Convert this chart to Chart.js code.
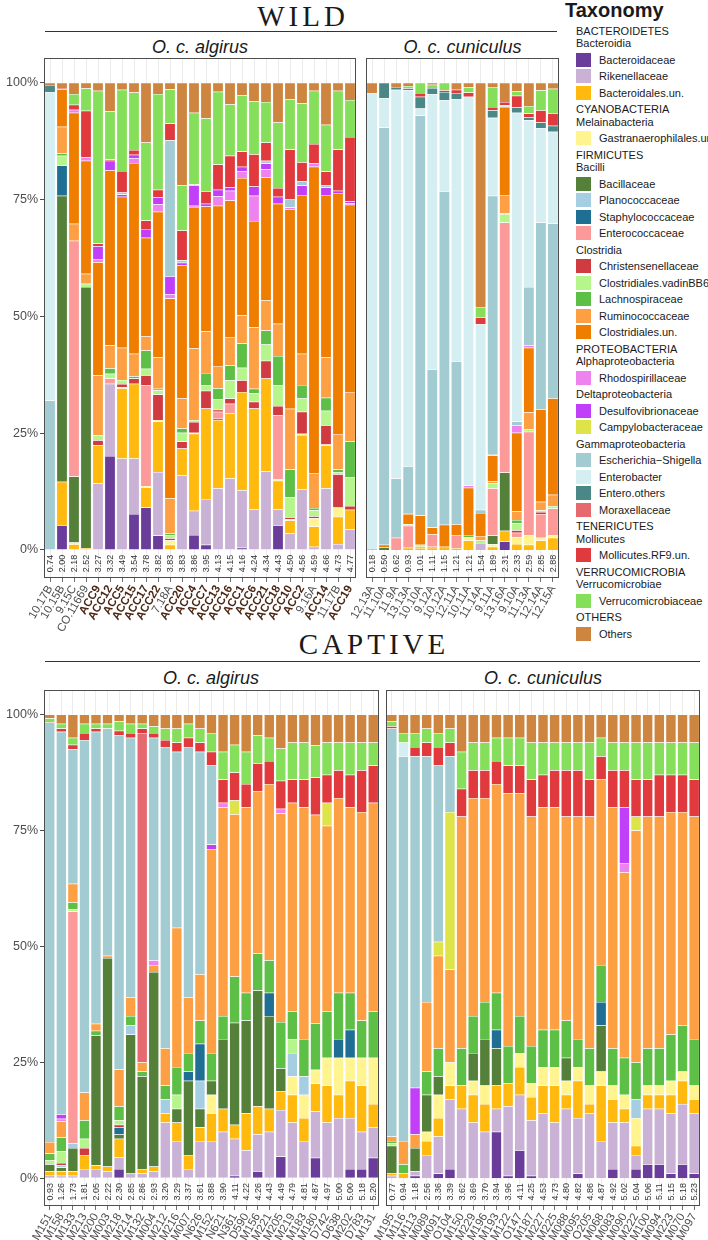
<!DOCTYPE html>
<html><head><meta charset="utf-8">
<script src="https://cdn.jsdelivr.net/npm/chart.js@4.4.1/dist/chart.umd.min.js"></script>
<style>
body{margin:0;background:#fff;width:708px;height:1240px;position:relative;overflow:hidden;font-family:"Liberation Sans",Arial,sans-serif;}
canvas{position:absolute;}
.title{position:absolute;font-family:"Liberation Serif","DejaVu Serif",serif;font-size:29px;letter-spacing:4px;color:#1a1a1a;text-align:center;width:300px;line-height:28px;}
.rule{position:absolute;height:0;border-top:1px solid #333;}
.strip{position:absolute;font-style:italic;font-size:18px;color:#1a1a1a;text-align:center;line-height:22px;}
#legend{position:absolute;left:576px;top:0;width:132px;color:#1a1a1a;font-size:11px;}
#legend .lt{font-weight:bold;font-size:20px;line-height:20px;margin-left:-11px;margin-bottom:4.7px;}
#legend .hd{line-height:12.5px;white-space:nowrap;}
#legend .hd.first{margin-top:2px;}
#legend .items{margin-top:2px;}
#legend .it{height:16.5px;display:flex;align-items:center;white-space:nowrap;}
#legend .sw{width:15px;height:14px;margin-right:8px;flex:none;}
</style></head><body>
<div class="title" style="left:153px;top:2px;">WILD</div>
<div class="rule" style="left:45px;width:512px;top:31px;"></div>
<div class="strip" style="left:44px;width:312px;top:36px;">O. c. algirus</div>
<div class="strip" style="left:366px;width:193px;top:36px;">O. c. cuniculus</div>
<div class="title" style="left:224px;top:630px;">CAPTIVE</div>
<div class="rule" style="left:45px;width:655px;top:661px;"></div>
<div class="strip" style="left:43px;width:336px;top:667px;">O. c. algirus</div>
<div class="strip" style="left:386px;width:314px;top:667px;">O. c. cuniculus</div>
<canvas id="wA" width="356" height="584" style="left:0;top:58px;"></canvas>
<canvas id="wB" width="223" height="584" style="left:336px;top:58px;"></canvas>
<canvas id="cA" width="379" height="550" style="left:0;top:690px;"></canvas>
<canvas id="cB" width="344" height="550" style="left:356px;top:690px;"></canvas>
<div id="legend"></div>
<script>
// ---- taxa (stack order, bottom to top) ----
const taxa = ["Bacteroidaceae","Rikenellaceae","Bacteroidales.un.","Gastranaerophilales.un.","Bacillaceae","Planococcaceae","Staphylococcaceae","Enterococcaceae","Christensenellaceae","Clostridiales.vadinBB60","Lachnospiraceae","Ruminococcaceae","Clostridiales.un.","Rhodospirillaceae","Desulfovibrionaceae","Campylobacteraceae","Escherichia\u2212Shigella","Enterobacter","Entero.others","Moraxellaceae","Mollicutes.RF9.un.","Verrucomicrobiaceae","Others"];
const taxaColors = ["#6a3d9a","#cab2d6","#ffb90f","#fff48f","#55803a","#a6cee3","#1f6f95","#fb9a99","#cf3b40","#b5f58c","#5dbf45","#fda043","#ee7d00","#ee82ee","#c13ff8","#dfe34a","#a2ccd2","#d4eef2","#4a8888","#e6696f","#e0393e","#86df5a","#cd853f"];
const legendGroups = [
  ["BACTEROIDETES","Bacteroidia",[0,1,2]],
  ["CYANOBACTERIA","Melainabacteria",[3]],
  ["FIRMICUTES","Bacilli",[4,5,6,7]],
  [null,"Clostridia",[8,9,10,11,12]],
  ["PROTEOBACTERIA","Alphaproteobacteria",[13]],
  [null,"Deltaproteobacteria",[14,15]],
  [null,"Gammaproteobacteria",[16,17,18,19]],
  ["TENERICUTES","Mollicutes",[20]],
  ["VERRUCOMICROBIA","Verrucomicrobiae",[21]],
  ["OTHERS",null,[22]]
];
const yTicks = [0,25,50,75,100];

// ---- WILD O. c. algirus ----
const wildAlgirusSamples = ["10.17B","10.15B","9.15C","CO.11669","ACC9","ACC12","ACC5","ACC15","ACC17","ACC22","7.18A","ACC20","ACC4","ACC7","ACC13","ACC16","ACC1","ACC6","ACC21","ACC18","ACC10","ACC2","9.16A","ACC14","11.17B","ACC19"];
const wildAlgirusIndex = [0.74,2.00,2.18,2.52,3.27,3.32,3.49,3.54,3.78,3.82,3.83,3.83,3.86,3.95,4.13,4.15,4.16,4.24,4.34,4.43,4.50,4.56,4.59,4.66,4.73,4.77];
const wildAlgirusValues = [
[0,0,0,0,0,0,0,0,0,0,0,0,0,0,0,0,32,66,1.5,0,0,0,0.5],
[5.3,0,9.3,0,61.2,0,6.5,0,0,2.1,0.5,5.7,8,0,0,0,0,0,0,0,0.3,0,1.1],
[0,0,1.2,0.4,14.1,0,0,50.5,0,0,0,3.6,23.8,0.6,0,0,0,0,0,0,1.1,2.3,2.4],
[0,0,0.4,0,55.9,0,0,0,0,0.7,0,2.1,24.2,0.7,0,0,0,0,0,0,10,4.8,1.2],
[0,14.2,8.2,0,0,0,0,0,1.1,1,0,12.9,24.2,0.7,2.7,0,0,0,0,0,0.6,32.7,1.7],
[20.1,15.5,0,0,0,0,0,1.1,0,1,1.2,4.9,37.5,0,2,0,0,0,0,0,0.3,10.3,6.1],
[0,19.6,15,0.3,0,0,0,0,0.6,0.9,0,6.9,32.3,0,0.5,0,0.4,0,0,0,4.6,17.4,1.5],
[7.7,11.9,16,0,0,0,0,0,1.1,0,0.5,4.8,40.8,1,0.8,0,0,0,0,0,1,12.3,2.1],
[9.1,0,4.3,0.3,0,0,0,21.6,2.1,1.4,3.9,3,21.1,0,1.9,0,0,0,0,0,1.8,16.7,12.8],
[3.1,13.6,10.8,0.3,0,0,0,0,5.5,0.9,0.3,6.7,31.2,1.6,1.5,0,0,0,0,0,1.6,20.5,2.4],
[0,0,1.1,1,0,0,0,0,0.4,0.6,0.5,7.4,42.8,0.9,3.9,0,29.1,0,0,0,3.6,7.3,1.4],
[0,16,5.7,0,0,0,0,0,1.5,1.9,0.9,6.4,28.5,0,0.6,0,0.5,0,0,0,6.4,9.6,22],
[3.2,5.2,16.5,0.2,0,0,0,0,2.3,0.4,0,15.3,30.3,0.3,4.3,0,0,0,0,0,0.2,15.4,6.4],
[1.1,9.8,19.4,0,0,0,0,0,3.8,1.2,2.6,8.9,26.7,0,0.6,0,0,0,0,0,2.7,15.6,7.6],
[0,13.2,14.6,0,0,0,0.3,1.5,0.4,2.2,2.4,4.8,34.3,2,1.4,0,0,0,0,0,5.4,15.6,1.9],
[0,15.3,13.9,0,0,0,0,2.1,1.1,3.9,3.2,6.1,29.2,2.1,0.7,0,0,0,0,0,6.8,11,4.6],
[0.5,12.3,21,0,0,0,0,0,2.5,2.7,5.2,6,29.4,1.4,1,0,0,0,0,0,3.3,12,2.7],
[0,8.7,21.6,0,0,0,0,0,1.4,1.8,1,13.1,22.8,5.4,2,0,0,0,0,0,6.9,11.3,4],
[0,16.8,19.9,0,0,0,0,0,3.8,3.5,3,6.4,26.4,1.7,1.2,0,0.6,0,0,0,3.9,8.7,4.1],
[5.3,3.4,6.1,0.3,0,0,0,13.7,2,4.5,6.2,6.9,25.7,0,1.5,0,0,0,0,0,1.9,14,8.5],
[0,3.6,2.7,0.3,0,0,0,0,0.4,4.3,5.9,13,42.7,0.4,0,0,1.8,0,0,0,10.6,10.7,3.6],
[0,13,11.6,0.3,0,0,0,0,4.7,2.8,2.9,6.7,34,0,2,0,0.9,0,0,0,4.1,12.6,4.4],
[0,0.7,4.3,1.8,0,0,0,0,0.4,1.3,0.5,7.5,65.5,0.7,0,0,0,0,0,0,4.2,11.4,1.7],
[0,13.2,9.2,0.2,0,0,0,0,4.1,3.1,2.8,8.6,34.8,0,1.6,0,0.4,0,0,0,3,10,9],
[0,1.3,5.8,2,0,0,0,0,7.1,0.5,0.5,7.6,51.6,0,0.5,0,0,0,0,0,8.8,12.6,1.7],
[0,4.4,4.2,0,0,0,0,0,0.8,6.1,7.7,10.6,40.1,0.3,0.4,0,0,0,0,0,13.8,7.9,3.7]
];

// ---- WILD O. c. cuniculus ----
const wildCuniculusSamples = ["12.13A","11.10A","11.9A","13.13A","10.10A","9.12A","10.12A","12.11A","10.11A","11.14A","9.11A","13.16A","9.10A","11.13A","12.14A","12.15A"];
const wildCuniculusIndex = [0.18,0.50,0.62,0.93,1.01,1.11,1.15,1.21,1.21,1.54,1.89,2.31,2.33,2.59,2.85,2.88];
const wildCuniculusValues = [
[0,0,0,0,0,0,0,0,0,0,0,0,0.2,0,0,0,0,97.6,0,0,0,0,2.2],
[0,0,0,0,0.6,0,0,0,0,0,0,0,0.5,0,0,0,89.3,6.3,3.3,0,0,0,0],
[0,0,0,0,0,0,0,2.6,0,0,0,0,0,0,0,0,12.7,83.2,0.6,0,0,0,0.9],
[0,0,0.5,0,0,0,0,4.7,0,0.3,0,0,2.2,0.2,0,0,10,80.5,0.4,0,0.3,0.2,0.7],
[0,0,0.4,0,0,0,0,0.3,0,0.4,0,0,6.3,0,0,0,85.6,1.5,2.5,0,0.8,2.2,0],
[0,0,0.5,0,0.2,0,0,2.6,0,0,0,0,1.5,0,0,0,33.9,58.9,1.3,0,0,0.7,0.4],
[0,0,0.7,0,0,0,0,0,0,0,0,0,4.7,0,0,0,71.4,19.5,1.7,0,0.4,1.6,0],
[0,0,0.4,0,0,0,0,2.8,0,0,0,0,2.3,0,0,0,34.9,56.1,1.3,0,0.7,0,1.5],
[0,0,2,0.7,0,0,0,0,0,0,0.5,0,10.1,0.5,0,0,0,83.2,0,0,0.9,1.1,1],
[0,1.5,0,0,0,0,0,0,0,0.5,0,1,4.9,0,0,0,0.7,39.7,0,0,1.5,2.2,48],
[0,0,0.7,0.5,1.9,0,0,10.1,0,1,0,0.5,5.5,0.2,0,0,55.4,16.7,1.6,0,0.7,4.3,0.9],
[1.8,0,2.3,0,12.5,0,0,53.5,0,1.7,0.2,4,18.8,0,0,0,0,0.4,0,0,0.7,0,4.1],
[0,0,1.3,1.4,0,0,0,1,0.5,1.5,0.7,1.9,16.8,1.6,0,0,0.8,66.1,1.1,0,2.5,1,1.8],
[0,0,1.1,2.1,0,0,0,22.1,0,0.5,0,3.7,13.8,0.5,0,0,12.5,35.7,0.6,0,0.8,1.6,5],
[0,0,2,0.6,0,0,0,5.1,0.4,0.4,0,1.8,19.8,0,0,0,40,20.2,1.2,0,2.6,4.3,1.6],
[0,0,2.6,0.6,0,0,0,5.7,0,0.5,0,2.4,20.7,0,0,0,37.4,19.6,1.3,0,2.7,5.2,1.3]
];

// ---- CAPTIVE O. c. algirus ----
const captiveAlgirusSamples = ["M151","M158","M133","M213","M200","M003","M218","M214","M132","M004","M212","M216","M007","N626","M152","N621","N361","D590","M156","M221","M205","M219","M183","M180","D742","D638","M202","D783","M131"];
const captiveAlgirusIndex = [0.93,1.26,1.73,1.81,2.05,2.22,2.30,2.85,2.86,2.93,3.20,3.29,3.37,3.61,3.88,3.90,4.11,4.22,4.26,4.43,4.49,4.79,4.81,4.87,4.97,5.00,5.00,5.18,5.20];
const captiveAlgirusValues = [
[0,0.7,0.8,0,1.5,0,0,0,0,0.8,1.5,2.5,0,0,0,0,90.5,0,0,0,0.3,0.6,0.8],
[0,0.5,1,0,0.8,0.5,0,0,0.5,2.5,3,3.5,0,0.5,1,0,82.5,0,0,0,0.7,1,2],
[0,0.5,1,0,5,1,0,50,0,0.5,1.5,4,0,0,0,0,29,0,0,0,1,1.5,5],
[0,2,3,0,0,0,0,0,1.5,2,4,6,0,0,0,0,76,0,0,0,1.5,2,2],
[0,2,0.8,0,28,0,0,0,0,0,1,1.5,0,0,0,0,63,0,0,0,0.7,1,2],
[0,1.5,1,0,45,0,0,0,0,0,0,0.5,0,0,0,0,49,0,0,0,0,1,2],
[2,2.5,4,0,1,0,1.5,0,0.5,1,3,8,0,0,0,0,72,0,0,0,1,2,1.5],
[0,1,0,0,30,2,0,0,0,0,2,4,0,0,0,0,56,0,0,0,1,2,2],
[0,1,1,0,20,0,0,0,0,0,1,2,0,0,0,0,0,0,0,71,1,1,2],
[0,1.5,1,0,42,0,0,0,0,0,0,1.5,0,1,0,0,48,0,0,0,1,1.5,2.5],
[0,12,2,0,0,3,0,0,0,0,3,8,0,0,0,0,65,0,0,0,1.5,2.5,3],
[0,8,4,0,3,0,0,0,0,3,6,30,0,0,0,0,38,0,0,0,2,3,3],
[0,2,3,0,16,0,2,0,0,0,4,12,0,0,0,0,54,0,0,0,2,3,2],
[0,8,3,0,4,6,8,0,0,0,5,10,0,0,0,0,48,0,0,0,2,3,3],
[0,8,6,4,3,0,0,0,0,0,6,44,0,0,1,0,17,0,0,0,3,4,4],
[0,10,5,0,15,0,0,0,0,0,5,45,0,1,0,0,0,0,0,0,5,6,8],
[0.5,8,3,0,22,0,0,0,0,0,10,35,0,0,0,3,0,0,0,0,6,6,6.5],
[0,6,8,0,20,0,0,0,0,0,6,40,0,0,0,0,0,0,0,0,5,7,8],
[1.5,8,6,0,25,0,0,0,0,0,8,35,0,0,0,0,0,0,0,0,6,6,4.5],
[0,10,5,0,20,0,5,0,0,0,7,38,0,0,0,0,0,0,0,0,5,5,5],
[4.7,10,4,0,5,0,0,0,0,0,10,45,0,1,0,0,0,0,0,0,6,7,7.3],
[0,12,6,4,0,5,0,0,0,3,6,45,0,0,0,0,0,0,0,0,5,8,6],
[0,8,5,5,0,4,0,0,0,0,8,50,0,0,0,0,0,0,0,0,6,8,6],
[4.4,10,6,3,0,0,0,0,0,0,10,45,0,0,0,0,0,0,0,0,8,7,6.6],
[0,12,8,6,0,0,0,0,0,0,10,40,0,0,0,5,0,0,0,0,6,7,6],
[0,13,5,8,0,0,4,0,0,0,10,42,0,0,0,0,0,0,0,0,6,6,6],
[2,11,8,5,0,0,6,0,0,0,8,40,0,0,0,0,0,0,0,0,7,7,6],
[2,8,10,6,0,0,0,0,0,0,8,45,0,0,0,0,0,0,0,0,9,6,6],
[4.4,6.6,5,10,0,0,0,0,0,0,10,45,0,0,0,0,0,0,0,0,8,5,6]
];

// ---- CAPTIVE O. c. cuniculus ----
const captiveCuniculusSamples = ["M195","M116","M113","M089","M091","O104","M150","M229","M196","M193","M122","O147","M187","M227","M225","M088","M095","O205","M068","M083","M090","M222","M100","M094","M223","M070","M097"];
const captiveCuniculusIndex = [0.77,0.94,1.18,2.56,3.36,3.39,3.62,3.69,3.70,3.94,3.96,4.11,4.25,4.53,4.73,4.80,4.82,4.86,4.87,4.92,5.02,5.04,5.06,5.11,5.15,5.18,5.23];
const captiveCuniculusValues = [
[0,0.5,0.5,0,6,0,0,0,0,0.5,0.5,1,0,0,0,0,88,0,0,0,0.5,1,1.5],
[0,0,1,0,0,0,0,0,0,0,2,5,0,0,0,0,83,3,0,0,0,2,4],
[0.5,1,0,0,5,0,0,0,0,0,0,3,0,0,10,0,71.5,0,0,0,2,3,4],
[0,5,3,2,8,0,0,0,0,0,5,15,0,0,0,0,53,0,0,0,3,3,3],
[1,8,4,5,4,0,0,0,0,0,6,20,0,0,0,3,38,0,0,0,4,3,4],
[2,15,3,5,0,0,0,0,0,0,0,20,0,0,0,34,12,0,0,0,3,3,3],
[0,15,5,0,0,0,0,0,0,0,8,50,0,0,0,0,0,0,0,0,6,8,8],
[0,12,6,3,6,0,0,0,0,0,8,47,0,0,0,0,0,0,0,0,6,6,6],
[0,10,6,4,10,0,0,0,0,0,8,44,0,0,0,0,0,0,0,0,6,6,6],
[10,5,5,0,8,0,4,0,0,0,8,45,0,0,0,0,0,0,0,0,5,5,5],
[0.5,15,5,0,0,0,0,0,0,0,8,54.5,0,0,0,0,0,0,0,0,6,6,5],
[6,12,6,3,0,0,0,0,0,0,8,48,0,0,0,0,0,0,0,0,6,6,5],
[0.5,12,5,3,0,0,0,0,0,0,8,49.5,0,0,0,0,0,0,0,0,8,8,6],
[0,14,6,4,0,0,0,0,0,0,8,48,0,0,0,0,0,0,0,0,7,7,6],
[0,12,8,4,0,0,0,0,0,0,8,48,0,0,0,0,0,0,0,0,8,6,6],
[0,15,3,3,5,0,0,0,0,0,8,44,0,0,0,0,0,0,0,0,10,6,6],
[1,12,8,3,0,0,0,0,0,0,6,48,0,0,0,0,0,0,0,0,10,6,6],
[0,14,2,4,0,0,0,0,0,0,8,50,0,0,0,0,0,0,0,0,8,8,6],
[0,8,12,3,10,0,5,0,0,0,8,40,0,0,0,0,0,0,0,0,5,4,5],
[2,10,5,3,0,0,0,0,0,0,8,52,0,0,0,0,0,0,0,0,8,6,6],
[0,12,3,3,0,0,0,0,0,0,8,40,0,2,12,0,0,0,0,0,8,6,6],
[2,3,2,6,0,4,0,0,0,0,8,50,0,0,0,3,0,0,0,0,8,8,6],
[3,12,3,2,0,0,0,0,0,0,8,50,0,0,0,0,0,0,0,0,8,8,6],
[3,12,3,2,0,0,0,0,0,0,8,50,0,0,0,0,0,0,0,0,9,7,6],
[1,13,4,3,0,0,0,0,0,0,10,48,0,0,0,0,0,0,0,0,8,7,6],
[3,13,5,2,0,0,0,0,0,0,10,46,0,0,0,0,0,0,0,0,8,7,6],
[1,13,3,3,0,0,0,0,0,0,10,48,0,0,0,0,0,0,0,0,8,8,6]
];

// ---- plugins ----
const panelBox = {
  id:'panelBox',
  afterDraw(chart){
    const a = chart.chartArea, c = chart.ctx;
    c.save(); c.strokeStyle = '#4d4d4d'; c.lineWidth = 1;
    c.strokeRect(Math.round(a.left)+0.5, Math.round(a.top)+0.5, Math.round(a.right-a.left)-1, Math.round(a.bottom-a.top)-1);
    c.restore();
  }
};
const indexLabels = {
  id:'indexLabels',
  afterDatasetsDraw(chart, args, opts){
    const c = chart.ctx, xs = chart.scales.x, ys = chart.scales.y;
    c.save();
    c.font = '9px "Liberation Sans", Arial, sans-serif';
    c.fillStyle = '#333'; c.textAlign = 'center'; c.textBaseline = 'middle';
    opts.values.forEach((v,i)=>{
      const x = xs.getPixelForValue(i), y = ys.getPixelForValue(-2.9);
      c.save(); c.translate(x,y); c.rotate(-Math.PI/2); c.fillText(v.toFixed(2),0,0.5); c.restore();
    });
    c.restore();
  }
};

function makePanel(id, samples, index, values, showY, padLeft, xHeight){
  const datasets = taxa.map((t,k)=>({
    label:t,
    data: values.map(r=> r[k] ? r[k] : null),
    backgroundColor: taxaColors[k],
    borderColor:'#ffffff', borderWidth:0.5,
    barPercentage:0.9, categoryPercentage:1
  }));
  return new Chart(document.getElementById(id), {
    type:'bar',
    data:{labels:samples, datasets},
    plugins:[panelBox, indexLabels],
    options:{
      responsive:false, animation:false, devicePixelRatio:1,
      layout:{padding:{left:padLeft, right:0, top:0, bottom:0}},
      plugins:{legend:{display:false}, tooltip:{enabled:false}, indexLabels:{values:index}},
      scales:{
        x:{
          type:'category', stacked:true, offset:true,
          grid:{offset:false, color:'#e6e6e6', lineWidth:0.8, tickColor:'#4d4d4d', tickLength:4, drawOnChartArea:true},
          border:{display:false},
          ticks:{autoSkip:false, maxRotation:60, minRotation:60, padding:1,
            color: ctx => (samples[ctx.index]||'').startsWith('ACC') ? '#4a2614' : '#4d4d4d',
            font: ctx => ({family:'"Liberation Sans", Arial, sans-serif', size:11.5, weight:(samples[ctx.index]||'').startsWith('ACC') ? 'bold':'normal'})
          },
          afterFit: s => { s.height = xHeight; s.paddingLeft = 0; s.paddingRight = 0; }
        },
        y:{
          type:'linear', stacked:true, min:-6, max:105.3, display:showY,
          grid:{drawOnChartArea:false, tickColor:'#4d4d4d', tickLength:4},
          border:{display:false},
          ticks:{callback: v => v + '%', color:'#4d4d4d', font:{family:'"Liberation Sans", Arial, sans-serif', size:12.5}, padding:2},
          afterBuildTicks: s => { s.ticks = yTicks.map(v=>({value:v})); },
          afterFit: s => { s.width = showY ? 44 : 0; s.paddingTop = 0; s.paddingBottom = 0; }
        }
      }
    }
  });
}

makePanel('wA', wildAlgirusSamples, wildAlgirusIndex, wildAlgirusValues, true, 0, 64);
makePanel('wB', wildCuniculusSamples, wildCuniculusIndex, wildCuniculusValues, false, 30, 64);
makePanel('cA', captiveAlgirusSamples, captiveAlgirusIndex, captiveAlgirusValues, true, 0, 34);
makePanel('cB', captiveCuniculusSamples, captiveCuniculusIndex, captiveCuniculusValues, false, 30, 34);

// ---- legend ----
const lg = document.getElementById('legend');
let html = '<div class="lt">Taxonomy</div>';
legendGroups.forEach(([phylum, cls, idx])=>{
  let first = true;
  if (phylum){ html += '<div class="hd first">'+phylum+'</div>'; first = false; }
  if (cls){ html += '<div class="hd'+(first?' first':'')+'">'+cls+'</div>'; }
  html += '<div class="items">';
  idx.forEach(k=>{ html += '<div class="it"><span class="sw" style="background:'+taxaColors[k]+'"></span>'+taxa[k]+'</div>'; });
  html += '</div>';
});
lg.innerHTML = html;
</script>
</body></html>
